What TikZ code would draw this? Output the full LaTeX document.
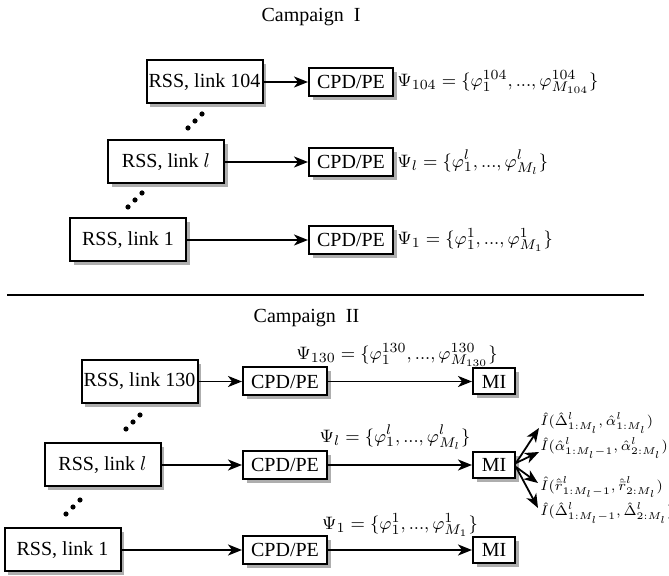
\documentclass[tikz,border=0pt]{standalone}
\usepackage{fontspec}
\setmainfont{Liberation Serif}
\usetikzlibrary{arrows.meta,shadows}
\begin{document}
\begin{tikzpicture}[x=0.5pt,y=-0.5pt,
  box/.style={draw,line width=1pt,fill=white,inner sep=0pt,
    drop shadow={shadow xshift=1.8pt,shadow yshift=-1.8pt,opacity=0.45,fill=black!70}},
  rss/.style={box,minimum width=58pt,minimum height=21.5pt},
  cpd/.style={box,minimum width=42pt,minimum height=14pt},
  mi/.style={box,minimum width=21pt,minimum height=13pt},
  arr/.style={line width=0.9pt,-{Stealth[length=7pt,width=5.5pt,inset=2pt]}},
  dot/.style={fill=black,circle,inner sep=0pt,minimum size=2.6pt},
  psi/.style={inner sep=0pt,font=\fontsize{9.5}{11}\selectfont},
  lab/.style={inner sep=0pt,font=\fontsize{7.5}{9}\selectfont}]
\useasboundingbox (0,0) rectangle (669,576);

% Campaign I
\node (t1) at (311,17) {Campaign\ \ I};
\node[rss] (r104) at (204.5,82) {RSS, link 104};
\node[cpd] (c104) at (351,82) {CPD/PE};
\node[rss] (rl) at (166,162) {RSS, link $l$};
\node[cpd] (cl) at (351,162) {CPD/PE};
\node[rss] (r1) at (128,240) {RSS, link 1};
\node[cpd] (c1) at (351,240) {CPD/PE};
\draw[arr] (r104) -- (c104);
\draw[arr] (rl) -- (cl);
\draw[arr] (r1) -- (c1);
\node[psi,anchor=west] (p104) at (397,82) {$\Psi_{104}=\{\varphi_1^{104},...,\varphi_{M_{104}}^{104}\}$};
\node[psi,anchor=west] (pl) at (397,162) {$\Psi_{l}=\{\varphi_1^{l},...,\varphi_{M_{l}}^{l}\}$};
\node[psi,anchor=west] (p1) at (397,240) {$\Psi_{1}=\{\varphi_1^{1},...,\varphi_{M_{1}}^{1}\}$};
\node[dot] (a1) at (188,128) {}; \node[dot] (a2) at (195,121) {}; \node[dot] (a3) at (202,114) {};
\node[dot] (b1) at (128,207) {}; \node[dot] (b2) at (135,200) {}; \node[dot] (b3) at (142,193) {};

% separator
\coordinate (hl) at (7,295);
\coordinate (hr) at (644,295);
\draw[line width=1.1pt] (hl) -- (hr);

% Campaign II
\node (t2) at (306.5,318) {Campaign\ \ II};
\node[rss] (s130) at (139.5,381.5) {RSS, link 130};
\node[cpd] (d130) at (285,381.5) {CPD/PE};
\node[mi] (m130) at (494,381.5) {MI};
\node[rss] (sl) at (102.5,465) {RSS, link $l$};
\node[cpd] (dl) at (285,465) {CPD/PE};
\node[mi] (ml) at (494,465) {MI};
\node[rss] (s1) at (62.5,550) {RSS, link 1};
\node[cpd] (d1) at (285,550) {CPD/PE};
\node[mi] (m1) at (494,550) {MI};
\draw[arr] (s130) -- (d130);
\draw[arr] (d130) -- (m130);
\draw[arr] (sl) -- (dl);
\draw[arr] (dl) -- (ml);
\draw[arr] (s1) -- (d1);
\draw[arr] (d1) -- (m1);
\node[psi] (q130) at (397,355) {$\Psi_{130}=\{\varphi_1^{130},...,\varphi_{M_{130}}^{130}\}$};
\node[psi] (ql) at (395,437) {$\Psi_{l}=\{\varphi_1^{l},...,\varphi_{M_{l}}^{l}\}$};
\node[psi] (q1) at (400,525) {$\Psi_{1}=\{\varphi_1^{1},...,\varphi_{M_{1}}^{1}\}$};
\node[dot] (e1) at (126,429) {}; \node[dot] (e2) at (133,422) {}; \node[dot] (e3) at (140,415) {};
\node[dot] (f1) at (66,514) {}; \node[dot] (f2) at (73,507) {}; \node[dot] (f3) at (80,500) {};

% MI outputs
\node[lab,anchor=west] (o1) at (540,423) {$\hat I(\hat\Delta^l_{1:M_l},\hat\alpha^l_{1:M_l})$};
\node[lab,anchor=west] (o2) at (540,448) {$\hat I(\hat\alpha^l_{1:M_l-1},\hat\alpha^l_{2:M_l})$};
\node[lab,anchor=west] (o3) at (540,487) {$\hat I(\hat{\bar r}^l_{1:M_l-1},\hat{\bar r}^l_{2:M_l})$};
\node[lab,anchor=west] (o4) at (540,513) {$\hat I(\hat\Delta^l_{1:M_l-1},\hat\Delta^l_{2:M_l})$};
\coordinate (k1) at (539,428);
\coordinate (k2) at (539,452);
\coordinate (k3) at (538,483);
\coordinate (k4) at (538,508);
\draw[arr] (ml.east) ++(0,-2) -- (k1);
\draw[arr] (ml.east) ++(0,-2) -- (k2);
\draw[arr] (ml.east) ++(0,2) -- (k3);
\draw[arr] (ml.east) ++(0,2) -- (k4);
\end{tikzpicture}
\end{document}
